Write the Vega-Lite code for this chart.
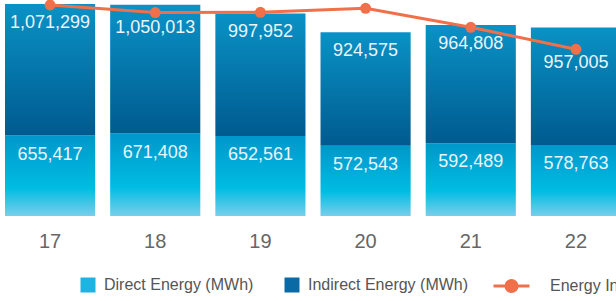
{
  "$schema": "https://vega.github.io/schema/vega-lite/v6.json",
  "width": 626,
  "height": 216,
  "autosize": {"type": "none"},
  "padding": {"left": 0, "top": 0, "right": -10, "bottom": 85},
  "background": "white",
  "config": {"view": {"stroke": null}, "font": "Liberation Sans"},
  "datasets": {
    "bars": [
      {"year": "17", "key": "Direct Energy (MWh)", "value": 655417},
      {"year": "17", "key": "Indirect Energy (MWh)", "value": 1071299},
      {"year": "18", "key": "Direct Energy (MWh)", "value": 671408},
      {"year": "18", "key": "Indirect Energy (MWh)", "value": 1050013},
      {"year": "19", "key": "Direct Energy (MWh)", "value": 652561},
      {"year": "19", "key": "Indirect Energy (MWh)", "value": 997952},
      {"year": "20", "key": "Direct Energy (MWh)", "value": 572543},
      {"year": "20", "key": "Indirect Energy (MWh)", "value": 924575},
      {"year": "21", "key": "Direct Energy (MWh)", "value": 592489},
      {"year": "21", "key": "Indirect Energy (MWh)", "value": 964808},
      {"year": "22", "key": "Direct Energy (MWh)", "value": 578763},
      {"year": "22", "key": "Indirect Energy (MWh)", "value": 957005}
    ],
    "line": [
      {"year": "17", "intensity": 211},
      {"year": "18", "intensity": 203.4},
      {"year": "19", "intensity": 203.7},
      {"year": "20", "intensity": 207.7},
      {"year": "21", "intensity": 188.7},
      {"year": "22", "intensity": 166.7}
    ]
  },
  "encoding": {
    "x": {
      "field": "year",
      "type": "ordinal",
      "scale": {"paddingInner": 0.143, "paddingOuter": 0.0475},
      "axis": {
        "title": null,
        "domain": false,
        "ticks": false,
        "labelAngle": 0,
        "labelFontSize": 20,
        "labelColor": "#666666",
        "labelPadding": 15,
        "labelFont": "Liberation Sans"
      }
    }
  },
  "layer": [
    {
      "data": {"name": "bars"},
      "transform": [
        {"stack": "value", "groupby": ["year"], "sort": [{"field": "key", "order": "ascending"}], "as": ["v0", "v1"]}
      ],
      "layer": [
        {
          "mark": {"type": "bar", "opacity": 0},
          "encoding": {
            "y": {"field": "v0", "type": "quantitative", "scale": {"domain": [0, 1760000]}, "axis": null},
            "y2": {"field": "v1"},
            "color": {
              "field": "key",
              "type": "nominal",
              "scale": {
                "domain": ["Direct Energy (MWh)", "Indirect Energy (MWh)"],
                "range": ["#1eb4e2", "#0a6aa6"]
              },
              "legend": {
                "title": null,
                "orient": "none",
                "direction": "horizontal",
                "legendX": 80,
                "legendY": 277,
                "padding": 0,
                "columnPadding": 30,
                "labelOffset": 8,
                "labelFontSize": 16,
                "labelColor": "#555555",
                "labelFont": "Liberation Sans",
                "labelLimit": 400,
                "symbolSize": 225,
                "symbolType": "square",
                "symbolOpacity": 1,
                "symbolStrokeWidth": 0
              }
            }
          }
        },
        {
          "transform": [{"filter": "datum.key === 'Direct Energy (MWh)'"}],
          "mark": {"type": "bar", "color": {"gradient": "linear", "x1": 0, "y1": 0, "x2": 0, "y2": 1, "stops": [
            {"offset": 0, "color": "#0097cb"},
            {"offset": 0.65, "color": "#00bce3"},
            {"offset": 1, "color": "#78cfea"}
          ]}},
          "encoding": {
            "y": {"field": "v0", "type": "quantitative", "scale": {"domain": [0, 1760000]}, "axis": null},
            "y2": {"field": "v1"}
          }
        },
        {
          "transform": [{"filter": "datum.key === 'Indirect Energy (MWh)'"}],
          "mark": {"type": "bar", "color": {"gradient": "linear", "x1": 0, "y1": 0, "x2": 0, "y2": 1, "stops": [
            {"offset": 0, "color": "#0a92c6"},
            {"offset": 1, "color": "#005a8f"}
          ]}},
          "encoding": {
            "y": {"field": "v0", "type": "quantitative", "scale": {"domain": [0, 1760000]}, "axis": null},
            "y2": {"field": "v1"}
          }
        },
        {
          "transform": [{"filter": "!(datum.key === 'Indirect Energy (MWh)' && (datum.year === '22' || datum.year === '18'))"}],
          "mark": {"type": "text", "baseline": "middle", "align": "center", "dy": 19, "fontSize": 18, "font": "Liberation Sans", "color": "#eaf5fa"},
          "encoding": {
            "y": {"field": "v1", "type": "quantitative", "scale": {"domain": [0, 1760000]}, "axis": null},
            "text": {"field": "value", "type": "quantitative", "format": ",d"}
          }
        },
        {
          "transform": [{"filter": "datum.key === 'Indirect Energy (MWh)' && datum.year === '18'"}],
          "mark": {"type": "text", "baseline": "middle", "align": "center", "dy": 23, "fontSize": 18, "font": "Liberation Sans", "color": "#eaf5fa"},
          "encoding": {
            "y": {"field": "v1", "type": "quantitative", "scale": {"domain": [0, 1760000]}, "axis": null},
            "text": {"field": "value", "type": "quantitative", "format": ",d"}
          }
        },
        {
          "transform": [{"filter": "datum.key === 'Indirect Energy (MWh)' && datum.year === '22'"}],
          "mark": {"type": "text", "baseline": "middle", "align": "center", "dy": 35, "fontSize": 18, "font": "Liberation Sans", "color": "#eaf5fa"},
          "encoding": {
            "y": {"field": "v1", "type": "quantitative", "scale": {"domain": [0, 1760000]}, "axis": null},
            "text": {"field": "value", "type": "quantitative", "format": ",d"}
          }
        }
      ]
    },
    {
      "data": {"name": "line"},
      "encoding": {
        "y": {"field": "intensity", "type": "quantitative", "scale": {"domain": [0, 216]}, "axis": null}
      },
      "layer": [
        {
          "mark": {"type": "line", "strokeWidth": 3},
          "encoding": {
            "stroke": {
              "datum": "Energy Intensity (MWh/m²)",
              "type": "nominal",
              "scale": {"range": ["#f0704a"]},
              "legend": {
                "title": null,
                "orient": "none",
                "direction": "horizontal",
                "legendX": 492,
                "legendY": 277,
                "padding": 0,
                "labelOffset": 40,
                "labelFontSize": 16,
                "labelColor": "#555555",
                "labelFont": "Liberation Sans",
                "labelLimit": 400,
                "symbolSize": 225,
                "symbolType": "M-1,0H3.8M2.13,0A0.73,0.73,0,1,1,0.67,0A0.73,0.73,0,1,1,2.13,0Z",
                "symbolStrokeWidth": 3,
                "symbolFillColor": "#f0704a",
                "symbolOpacity": 1
              }
            }
          }
        },
        {
          "mark": {"type": "point", "filled": true, "size": 120, "color": "#f0704a", "opacity": 1}
        }
      ]
    }
  ],
  "resolve": {"scale": {"y": "independent"}}
}
